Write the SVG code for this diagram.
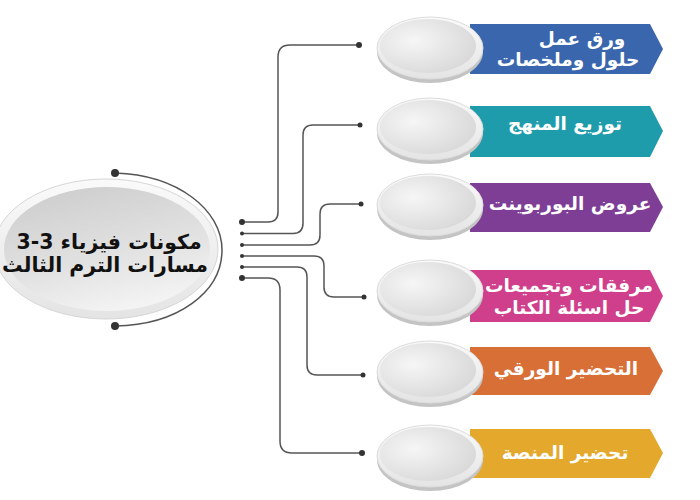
<svg xmlns="http://www.w3.org/2000/svg" width="700" height="500" viewBox="0 0 700 500">
<defs>
<linearGradient id="rimG" x1="0" y1="0" x2="0" y2="1"><stop offset="0" stop-color="#fafafa"/><stop offset="1" stop-color="#e4e4e4"/></linearGradient>
<linearGradient id="mainFace" x1="0.2" y1="0" x2="0.6" y2="1"><stop offset="0" stop-color="#cdcdcd"/><stop offset="0.6" stop-color="#e2e2e2"/><stop offset="1" stop-color="#f4f4f4"/></linearGradient>
<radialGradient id="btnFace" cx="0.35" cy="0.4" r="0.75"><stop offset="0" stop-color="#f6f6f6"/><stop offset="1" stop-color="#d6d6d6"/></radialGradient>
</defs>
<style>
.lip{fill:#c4c4c4}
.rim{fill:url(#rimG);stroke:#dcdcdc;stroke-width:1}
.face{fill:url(#btnFace)}
.bt{font-family:"DejaVu Sans",sans-serif;font-weight:bold;font-size:18.5px;fill:#fff;text-anchor:middle;direction:rtl}
.mt{font-family:"DejaVu Sans",sans-serif;font-weight:bold;font-size:20.5px;fill:#111;text-anchor:middle;direction:rtl}
.ln{fill:none;stroke:#555;stroke-width:1.5}
.dot{fill:#333}
</style>

<g id="center">
<path class="ln" d="M115,173 C178,175 222,210 222,250 C222,292 178,325 115,326"/>
<circle class="dot" cx="115" cy="173" r="4"/>
<circle class="dot" cx="115" cy="326" r="4"/>
<ellipse cx="106" cy="249" rx="112" ry="70" fill="url(#rimG)" stroke="#d6d6d6"/>
<ellipse cx="107" cy="249" rx="103" ry="62" fill="url(#mainFace)"/>
<text class="mt" x="109" y="249">مكونات فيزياء 3-3</text>
<text class="mt" x="105" y="272">مسارات الترم الثالث</text>
</g>

<g id="connectors">
<path class="ln" d="M242,222 H268 Q278,222 278,212 V57 Q278,45 290,45 H359"/>
<path class="ln" d="M242,233.5 H293 Q303,233.5 303,223 V135 Q303,125 313,125 H360"/>
<path class="ln" d="M242,245 H310 Q320,245 320,235 V214 Q320,204 330,204 H361"/>
<path class="ln" d="M242,256 H314 Q324,256 324,266 V287 Q324,297 334,297 H364"/>
<path class="ln" d="M242,267 H297 Q307,267 307,277 V365 Q307,375 317,375 H363"/>
<path class="ln" d="M242,278 H268 Q280,278 280,290 V441 Q280,453 292,453 H362"/>
<circle class="dot" cx="242" cy="222" r="3"/>
<circle class="dot" cx="242" cy="233.5" r="2"/>
<circle class="dot" cx="242" cy="245" r="2"/>
<circle class="dot" cx="242" cy="256" r="2"/>
<circle class="dot" cx="242" cy="267" r="2"/>
<circle class="dot" cx="242" cy="278" r="3"/>
<circle class="dot" cx="359" cy="45" r="3"/>
<circle class="dot" cx="360" cy="125" r="2.5"/>
<circle class="dot" cx="361" cy="204" r="2.5"/>
<circle class="dot" cx="364" cy="297" r="2.5"/>
<circle class="dot" cx="363" cy="375" r="2.5"/>
<circle class="dot" cx="362" cy="453" r="3"/>
</g>

<g id="item1">
<polygon points="470,24 650,24 663,49 650,74 470,74" fill="#3a66ae"/>
<ellipse class="lip" cx="430" cy="52" rx="53" ry="31"/>
<ellipse class="rim" cx="430" cy="48" rx="53" ry="31"/>
<ellipse class="face" cx="428" cy="46" rx="48" ry="27"/>
<text class="bt" x="582" y="45">ورق عمل</text>
<text class="bt" x="568" y="66">حلول وملخصات</text>
</g>

<g id="item2">
<polygon points="470,106 650,106 663,131 650,157 470,157" fill="#1e9cab"/>
<ellipse class="lip" cx="430" cy="133" rx="53" ry="31"/>
<ellipse class="rim" cx="430" cy="129" rx="53" ry="31"/>
<ellipse class="face" cx="428" cy="127" rx="48" ry="27"/>
<text class="bt" x="565" y="130">توزيع المنهج</text>
</g>

<g id="item3">
<polygon points="470,183 650,183 663,207 650,232 470,232" fill="#7e3e96"/>
<text class="bt" x="570" y="210">عروض البوربوينت</text>
<ellipse class="lip" cx="430" cy="209" rx="53" ry="31"/>
<ellipse class="rim" cx="430" cy="205" rx="53" ry="31"/>
<ellipse class="face" cx="428" cy="203" rx="48" ry="27"/>
</g>

<g id="item4">
<polygon points="470,270 650,270 663,296 650,322 470,322" fill="#cf3f8b"/>
<ellipse class="lip" cx="430" cy="295" rx="53" ry="31"/>
<ellipse class="rim" cx="430" cy="291" rx="53" ry="31"/>
<ellipse class="face" cx="428" cy="289" rx="48" ry="27"/>
<text class="bt" x="569" y="292">مرفقات وتجميعات</text>
<text class="bt" x="569" y="314">حل اسئلة الكتاب</text>
</g>

<g id="item5">
<polygon points="470,347 650,347 663,371 650,395 470,395" fill="#d86f36"/>
<ellipse class="lip" cx="430" cy="376" rx="53" ry="31"/>
<ellipse class="rim" cx="430" cy="372" rx="53" ry="31"/>
<ellipse class="face" cx="428" cy="370" rx="48" ry="27"/>
<text class="bt" x="566" y="375">التحضير الورقي</text>
</g>

<g id="item6">
<polygon points="470,429 650,429 663,453 650,478 470,478" fill="#e4a92c"/>
<ellipse class="lip" cx="430" cy="460" rx="53" ry="31"/>
<ellipse class="rim" cx="430" cy="456" rx="53" ry="31"/>
<ellipse class="face" cx="428" cy="454" rx="48" ry="27"/>
<text class="bt" x="565" y="459">تحضير المنصة</text>
</g>
</svg>
